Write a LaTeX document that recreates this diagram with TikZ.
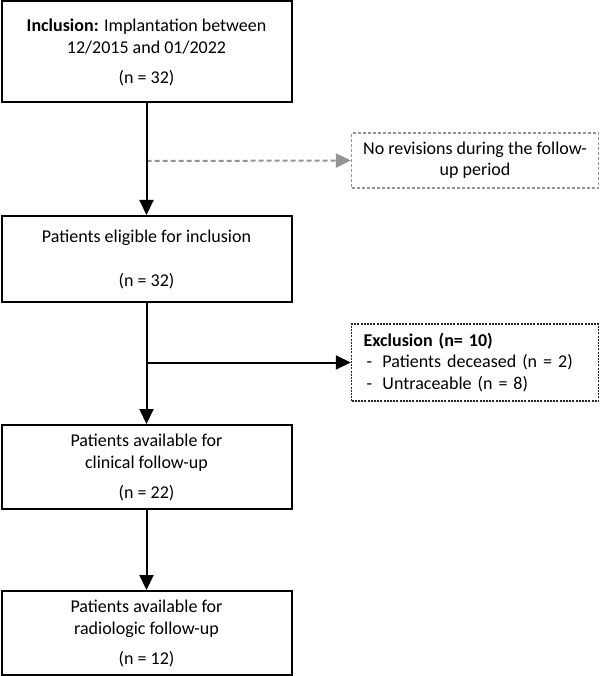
\documentclass[tikz,border=0pt]{standalone}
\usepackage{fontspec}
\setmainfont{Carlito}
\usetikzlibrary{arrows.meta}
\begin{document}
\begin{tikzpicture}[x=1pt,y=-1pt,
  mainbox/.style={draw=black,line width=2pt,minimum width=290pt,inner sep=0pt,align=center,font=\fontsize{18}{22}\selectfont},
  sidebox/.style={draw=gray!85,line width=1.3pt,densely dashed,minimum width=247pt,inner sep=0pt,font=\fontsize{18}{21}\selectfont},
  exclbox/.style={draw=black!85,line width=1.5pt,dash pattern=on 2pt off 1.2pt,minimum width=247pt,inner xsep=12pt,inner ysep=0pt,font=\fontsize{18}{21.5}\selectfont},
  arr/.style={line width=2pt,-{Triangle[length=15pt,width=14pt]}},
  garr/.style={line width=2pt,draw=gray!85,dash pattern=on 5pt off 3pt,-{Triangle[length=15pt,width=14pt,fill=gray!85]}}
]
\useasboundingbox (0,0) rectangle (600,676);
\node[mainbox,minimum height=101pt] (b1) at (146.5,51.5) {\rule{0pt}{15pt}\textbf{Inclusion:} Implantation between\\12/2015 and 01/2022\\[8pt](n = 32)};
\node[mainbox,minimum height=86pt] (b2) at (146.5,259) {Patients eligible for inclusion\\[22pt](n = 32)};
\node[mainbox,minimum height=84pt] (b3) at (146.5,467) {Patients available for\\clinical follow-up\\[8pt](n = 22)};
\node[mainbox,minimum height=84pt] (b4) at (146.5,633) {Patients available for\\radiologic follow-up\\[8pt](n = 12)};
\node[sidebox,minimum height=55pt,align=center] (s1) at (475,160.5) {No revisions during the follow-\\up period};
\node[exclbox,minimum height=77pt,align=left,text width=223pt] (ex) at (475,362.5) {\textbf{Exclusion (n= 10)}\\\makebox[19pt][l]{\,-}Patients deceased (n = 2)\\\makebox[19pt][l]{\,-}Untraceable (n = 8)};
\coordinate (c1) at (146.5,161);
\coordinate (c2) at (146.5,362.5);
\draw[garr] (c1) -- (s1.west);
\draw[arr] (c2) -- (ex.west);
\draw[arr] (b1.south) -- (b2.north);
\draw[arr] (b2.south) -- (b3.north);
\draw[arr] (b3.south) -- (b4.north);
\end{tikzpicture}
\end{document}
